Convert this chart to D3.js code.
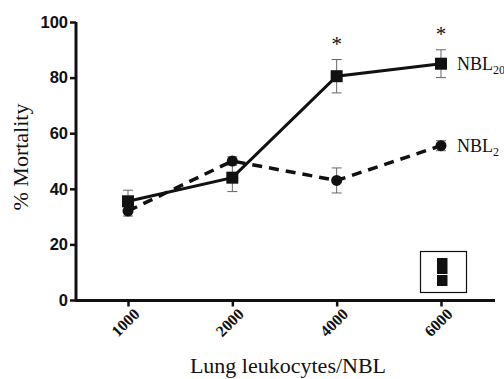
<!DOCTYPE html>
<html><head><meta charset="utf-8">
<script src="https://cdn.jsdelivr.net/npm/d3@7"></script>
<style>body{margin:0;background:#fff}svg{display:block}</style>
</head><body>
<script>
const categories = ["1000","2000","4000","6000"];
const nbl20 = [35.5, 44, 80.5, 85];
const nbl20Err = [4, 5, 6, 5];
const nbl2 = [32, 50, 43, 55.5];
const nbl2Err = [1.8, 1.5, 4.5, 1.8];
const yTicks = [0,20,40,60,80,100];
const sigCats = ["4000","6000"];

const W=504,H=379;
const svg=d3.select("body").append("svg").attr("width",W).attr("height",H);
const x=d3.scalePoint().domain(categories).range([128,441]);
const y=d3.scaleLinear().domain([0,100]).range([300,22]);
const axX0=76, axX1=495;
const serif="Liberation Serif, Times New Roman, serif";

// y axis
const ya=svg.append("g").attr("transform",`translate(${axX0},0)`)
  .call(d3.axisLeft(y).tickValues(yTicks).tickSize(6).tickPadding(2));
ya.select(".domain").attr("stroke","#111").attr("stroke-width",3).attr("d",`M0,${y(100)}V${y(0)+1.5}`);
ya.selectAll(".tick line").attr("stroke","#111").attr("stroke-width",2.5);
ya.selectAll(".tick text").style("font-family","Liberation Sans, Arial, sans-serif").style("font-weight","bold").style("font-size","16.5px").attr("fill","#111");

// x axis
const xa=svg.append("g").attr("transform",`translate(0,${y(0)+0.5})`)
  .call(d3.axisBottom(x).tickSize(6).tickPadding(4));
xa.select(".domain").attr("stroke","#111").attr("stroke-width",3).attr("d",`M${axX0},0H${axX1}`);
xa.selectAll(".tick line").attr("stroke","#111").attr("stroke-width",2.5);
xa.selectAll(".tick text").style("font-family",serif).style("font-weight","bold").style("font-size","16px").attr("fill","#111")
  .attr("text-anchor","end").attr("dy",null).attr("transform","translate(5,7.5) rotate(-45)");

// titles
svg.append("text").attr("transform","translate(28,157) rotate(-90)").attr("text-anchor","middle")
  .style("font-family",serif).style("font-size","22px").attr("fill","#111").text("% Mortality");
svg.append("text").attr("x",288).attr("y",373).attr("text-anchor","middle")
  .style("font-family",serif).style("font-size","22px").attr("fill","#111").text("Lung leukocytes/NBL");

function errbars(vals,errs){
  const g=svg.append("g").attr("stroke","#666").attr("stroke-width",1);
  categories.forEach((c,i)=>{
    const cx=x(c);
    g.append("line").attr("x1",cx).attr("x2",cx).attr("y1",y(vals[i]+errs[i])).attr("y2",y(vals[i]-errs[i]));
    g.append("line").attr("x1",cx-5).attr("x2",cx+5).attr("y1",y(vals[i]+errs[i])).attr("y2",y(vals[i]+errs[i]));
    g.append("line").attr("x1",cx-5).attr("x2",cx+5).attr("y1",y(vals[i]-errs[i])).attr("y2",y(vals[i]-errs[i]));
  });
}
errbars(nbl20,nbl20Err);
errbars(nbl2,nbl2Err);

const line=d3.line().x((d,i)=>x(categories[i])).y(d=>y(d));
svg.append("path").datum(nbl2).attr("d",line).attr("fill","none").attr("stroke","#111").attr("stroke-width",3.5).attr("stroke-dasharray","10,7");
svg.append("path").datum(nbl20).attr("d",line).attr("fill","none").attr("stroke","#111").attr("stroke-width",3);

svg.selectAll(".c").data(nbl2).enter().append("circle").attr("cx",(d,i)=>x(categories[i])).attr("cy",d=>y(d)).attr("r",5.5).attr("fill","#111");
svg.selectAll(".s").data(nbl20).enter().append("rect").attr("x",(d,i)=>x(categories[i])-6).attr("y",d=>y(d)-6).attr("width",12).attr("height",12).attr("fill","#111");

// significance
sigCats.forEach(c=>{
  const i=categories.indexOf(c);
  svg.append("text").attr("x",x(c)).attr("y",y(nbl20[i]+nbl20Err[i])-9).attr("text-anchor","middle")
    .style("font-family",serif).style("font-size","21px").attr("fill","#111").text("*");
});

// series labels
function lab(txt,sub,v){
  const t=svg.append("text").attr("x",457).attr("y",y(v)+6).style("font-family",serif).style("font-size","18px").attr("fill","#111");
  t.append("tspan").text(txt);
  t.append("tspan").style("font-size","12px").attr("dy",4).text(sub);
}
lab("NBL","20",nbl20[3]);
lab("NBL","2",nbl2[3]);

// legend box
svg.append("rect").attr("x",420.5).attr("y",251.5).attr("width",46).attr("height",41).attr("fill","none").attr("stroke","#111").attr("stroke-width",1.2);
svg.append("rect").attr("x",437).attr("y",258).attr("width",10.5).attr("height",16).attr("fill","#111");
svg.append("rect").attr("x",437).attr("y",275).attr("width",10.5).attr("height",11).attr("fill","#111");
</script>
</body></html>
